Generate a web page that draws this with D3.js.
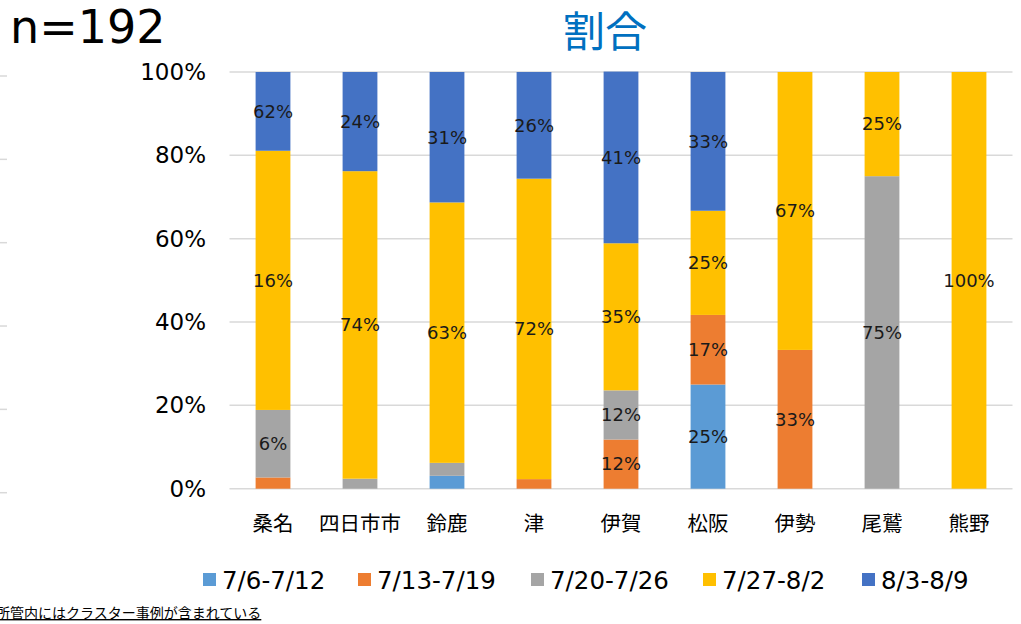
<!DOCTYPE html>
<html><head><meta charset="utf-8">
<script src="https://cdn.jsdelivr.net/npm/d3@7"></script>
<style>body{margin:0;background:#fff}svg{display:block}</style>
</head><body>
<svg id="c" width="1021" height="624"></svg>
<script>
const categories = ["桑名","四日市市","鈴鹿","津","伊賀","松阪","伊勢","尾鷲","熊野"];
const seriesNames = ["7/6-7/12","7/13-7/19","7/20-7/26","7/27-8/2","8/3-8/9"];
const seriesColors = ["#5B9BD5","#ED7D31","#A5A5A5","#FFC000","#4472C4"];
// shares (%) per series, per category
const s0706 = [0,   0,   3.1, 0,   0,    25,   0,    0,  0];
const s0713 = [2.7, 0,   0,   2.3, 11.8, 16.7, 33.3, 0,  0];
const s0720 = [16.2,2.4, 3.1, 0,   11.8, 0,    0,    75, 0];
const s0727 = [62.2,73.8,62.5,72.1,35.3, 25,   66.7, 25, 100];
const s0803 = [18.9,23.8,31.3,25.6,41.2, 33.3, 0,    0,  0];
// data labels as printed on the chart ("" = none)
const l0706 = ["","","","","","25%","","",""];
const l0713 = ["","","","","12%","17%","33%","",""];
const l0720 = ["6%","","","","12%","","","75%",""];
const l0727 = ["16%","74%","63%","72%","35%","25%","67%","25%","100%"];
const l0803 = ["62%","24%","31%","26%","41%","33%","","",""];
const yTicks = [0,20,40,60,80,100];
const titleText = "割合";
const nText = "n=192";
const noteText = "所管内にはクラスター事例が含まれている";

const seriesVals = [s0706,s0713,s0720,s0727,s0803];
const seriesLabels = [l0706,l0713,l0720,l0727,l0803];
const rows = categories.map((c,i)=>{const r={cat:c}; seriesNames.forEach((s,j)=>r[s]=seriesVals[j][i]); return r;});
const stacked = d3.stack().keys(seriesNames)(rows);

const svg = d3.select("#c");
const x = d3.scaleBand().domain(categories).range([229.5,1012.5]).paddingInner(0.6).paddingOuter(0.3);
const y = d3.scaleLinear().domain([0,100]).range([488.7,72]);
const jp = "'Noto Sans CJK JP','Noto Sans',sans-serif";
const lat = "'DejaVu Sans',sans-serif";

// left edge decoration ticks (cropped neighbouring chart)
svg.append("g").selectAll("line").data(yTicks).join("line")
  .attr("x1",0).attr("x2",7).attr("y1",d=>y(d)+4).attr("y2",d=>y(d)+4)
  .attr("stroke","#D9D9D9").attr("stroke-width",1.5);

// gridlines
svg.append("g").selectAll("line").data(yTicks).join("line")
  .attr("x1",229.5).attr("x2",1012.5).attr("y1",d=>y(d)).attr("y2",d=>y(d))
  .attr("stroke","#D9D9D9").attr("stroke-width",1.5);

// y axis labels
const yAxis = d3.axisLeft(y).tickValues(yTicks).tickFormat(d=>d+"%").tickSize(0).tickPadding(0);
const ya = svg.append("g").attr("transform","translate(206,0)").call(yAxis);
ya.select(".domain").remove();
ya.selectAll("text").attr("font-family",lat).attr("font-size",23).attr("fill","#000");

// bars
stacked.forEach((layer,j)=>{
  svg.append("g").selectAll("rect").data(layer).join("rect")
    .attr("x",d=>x(d.data.cat)).attr("width",x.bandwidth())
    .attr("y",d=>y(d[1])).attr("height",d=>Math.max(0,y(d[0])-y(d[1])))
    .attr("fill",seriesColors[j]);
});
// labels
stacked.forEach((layer,j)=>{
  svg.append("g").selectAll("text").data(layer).join("text")
    .attr("x",d=>x(d.data.cat)+x.bandwidth()/2)
    .attr("y",d=>y((d[0]+d[1])/2))
    .attr("dy","0.35em").attr("text-anchor","middle")
    .attr("font-family",lat).attr("font-size",18).attr("fill","#1a1a1a")
    .text((d,i)=>seriesLabels[j][i]);
});

// x axis labels
const xAxis = d3.axisBottom(x).tickSize(0).tickPadding(0);
const xa = svg.append("g").attr("transform","translate(0,524)").call(xAxis);
xa.select(".domain").remove();
xa.selectAll("text").attr("dy","0.35em").attr("font-family",jp).attr("font-size",20.5).attr("fill","#000");

// title & n
svg.append("text").attr("x",605).attr("y",47).attr("text-anchor","middle")
  .attr("font-family",jp).attr("font-size",42).attr("fill","#0070C0").text(titleText);
svg.append("text").attr("x",10).attr("y",43)
  .attr("font-family",lat).attr("font-size",46).attr("fill","#000").text(nText);

// legend
const legendX = [203,358,531,703,862];
const lg = svg.append("g").selectAll("g").data(seriesNames).join("g")
  .attr("transform",(d,i)=>`translate(${legendX[i]},580)`);
lg.append("rect").attr("x",0).attr("y",-7).attr("width",13).attr("height",13).attr("fill",(d,i)=>seriesColors[i]);
lg.append("text").attr("x",19).attr("y",0).attr("dy","0.35em")
  .attr("font-family",lat).attr("font-size",24.5).attr("fill","#000").text(d=>d);

// footnote
svg.append("text").attr("x",-4).attr("y",618)
  .attr("font-family",jp).attr("font-size",14).attr("fill","#000").attr("text-decoration","underline").text(noteText);
</script>
</body></html>
